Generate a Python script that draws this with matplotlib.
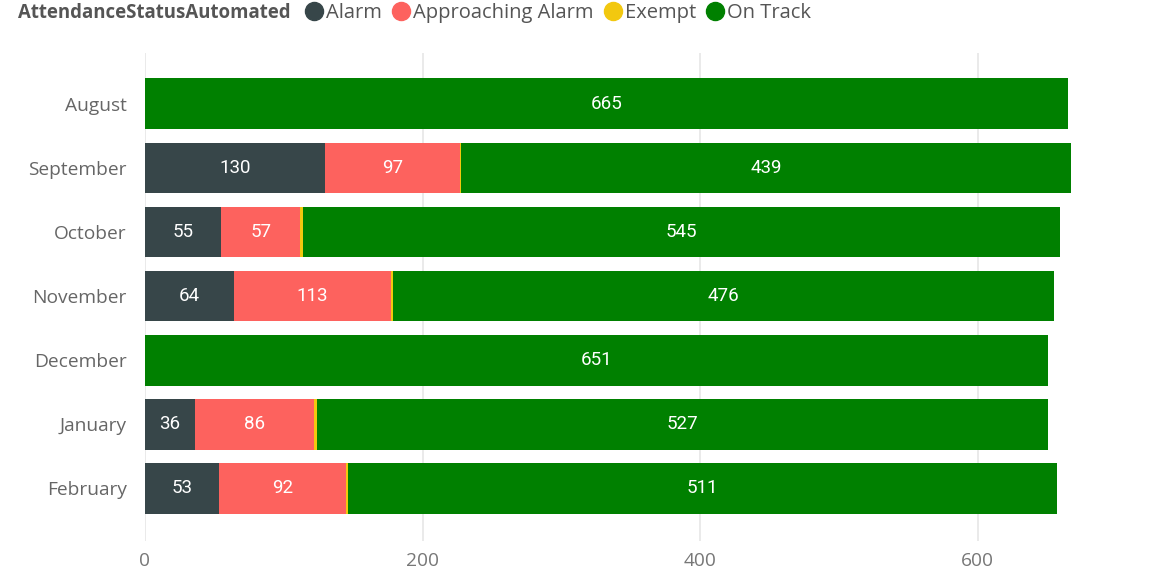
import matplotlib
matplotlib.use("Agg")
import matplotlib.pyplot as plt
from matplotlib.lines import Line2D

MONTHS = ["August", "September", "October", "November", "December", "January", "February"]
ALARM = [0, 130, 55, 64, 0, 36, 53]
APPROACHING = [0, 97, 57, 113, 0, 86, 92]
EXEMPT = [0, 1, 2, 2, 0, 2, 1]
ON_TRACK = [665, 439, 545, 476, 651, 527, 511]

SERIES = [
    ("Alarm", ALARM, "#374649", True),
    ("Approaching Alarm", APPROACHING, "#FD625E", True),
    ("Exempt", EXEMPT, "#F2C80F", False),
    ("On Track", ON_TRACK, "#008000", True),
]
XTICKS = [0, 200, 400, 600]

plt.rcParams["font.family"] = ["Open Sans", "DejaVu Sans"]

fig = plt.figure(figsize=(11.57, 5.74), dpi=100)
ax = fig.add_axes([0.1253, 0.0575, 0.86, 0.850])

ypos = list(range(len(MONTHS)))
left = [0] * len(MONTHS)
for name, vals, color, labelled in SERIES:
    bars = ax.barh(ypos, vals, left=left, height=0.79, color=color, label=name, zorder=3)
    if labelled:
        labels = [str(v) if v > 0 else "" for v in vals]
        ax.bar_label(bars, labels=labels, label_type="center", color="white",
                     fontsize=13.5, family=["Roboto", "DejaVu Sans"])
    left = [a + b for a, b in zip(left, vals)]

ax.set_ylim(6.82, -0.79)
ax.set_xlim(0, 717)
ax.set_yticks(ypos, labels=MONTHS)
ax.set_xticks(XTICKS, labels=[str(t) for t in XTICKS])
ax.tick_params(axis="y", length=0, pad=13, labelsize=13.8, labelcolor="#666666")
ax.tick_params(axis="x", length=0, pad=8, labelsize=13.8, labelcolor="#777777")
ax.grid(axis="x", color="#e6e6e6", linewidth=1.2, zorder=0)
for s in ax.spines.values():
    s.set_visible(False)

fig.text(0.0155, 0.977, "AttendanceStatusAutomated", fontsize=13.4, fontweight="bold",
         color="#555555", va="center")
handles = [Line2D([], [], marker="o", linestyle="", markersize=13, color=c)
           for _, _, c, _ in SERIES]
fig.legend(handles, [n for n, _, _, _ in SERIES], ncol=4, loc="center left",
           bbox_to_anchor=(0.261, 0.977), frameon=False, handletextpad=0.0,
           columnspacing=0.35, handlelength=1.2, borderaxespad=0, borderpad=0,
           labelcolor="#555555", fontsize=14.5)

fig.savefig("out.png", dpi=100)
